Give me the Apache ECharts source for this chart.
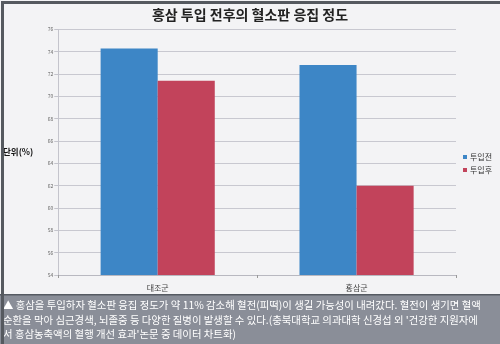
<!DOCTYPE html>
<html><head><meta charset="utf-8">
<script src="https://cdn.jsdelivr.net/npm/echarts@6/dist/echarts.min.js"></script>
<style>html,body{margin:0;padding:0;background:#f3f3f5}#c{width:500px;height:344px}</style>
</head><body><div id="c"></div>
<script>
const title = '홍삼 투입 전후의 혈소판 응집 정도';
const categories = ['대조군', '홍삼군'];
const seriesNames = ['투입전', '투입후'];
const beforeValues = [74.3, 72.8];
const afterValues = [71.4, 62.0];
const yTicks = [54, 56, 58, 60, 62, 64, 66, 68, 70, 72, 74, 76];
const yName = '단위(%)';
const captionLines = [
  '▲ 홍삼을 투입하자 혈소판 응집 정도가 약 11% 감소해 혈전(피떡)이 생길 가능성이 내려갔다. 혈전이 생기면 혈액',
  '순환을 막아 심근경색, 뇌졸중 등 다양한 질병이 발생할 수 있다.(충북대학교 의과대학 신경섭 외 \'건강한 지원자에',
  '서 홍삼농축액의 혈행 개선 효과\'논문 중 데이터 차트화)'
];
const FONT = '"Noto Sans CJK KR", "Noto Sans", sans-serif';
const chart = echarts.init(document.getElementById('c'), null, {renderer: 'canvas'});
chart.setOption({
  backgroundColor: '#f3f3f5',
  animation: false,
  title: {text: title, left: 'center', top: 3,
    textStyle: {fontFamily: FONT, fontSize: 14, fontWeight: 'bold', color: '#222'}},
  legend: {data: seriesNames, orient: 'vertical', left: 458, top: 148, itemWidth: 4, itemHeight: 4,
    itemGap: 5, icon: 'rect', textStyle: {fontFamily: FONT, fontSize: 8, color: '#333', padding: [0,0,0,-2]}},
  grid: {left: 45, right: 44, top: 29.4, bottom: 69},
  xAxis: {type: 'category', data: categories,
    axisLine: {lineStyle: {color: '#b8b8c0', width: 1}},
    axisTick: {show: true, alignWithLabel: false, length: 3, lineStyle: {color: '#999'}},
    axisLabel: {fontFamily: FONT, fontSize: 8, color: '#444', margin: 9}},
  yAxis: {type: 'value', min: yTicks[0], max: yTicks[yTicks.length-1], interval: 2,
    name: yName, nameLocation: 'middle', nameRotate: 0, nameGap: 25,
    nameTextStyle: {fontFamily: FONT, fontSize: 8.5, fontWeight: 'bold', color: '#111'},
    axisLine: {show: true, lineStyle: {color: '#c4c4cc'}},
    axisTick: {show: true, inside: false, length: 4, lineStyle: {color: '#c4c4cc'}},
    axisLabel: {fontFamily: FONT, fontSize: 5, color: '#666', margin: 5},
    splitLine: {lineStyle: {color: '#c8c8d0', width: 1}}},
  series: [
    {name: seriesNames[0], type: 'bar', data: beforeValues, barGap: '0%', barCategoryGap: '42.6%',
      itemStyle: {color: '#3d86c6'}},
    {name: seriesNames[1], type: 'bar', data: afterValues, itemStyle: {color: '#c2435b'}}
  ],
  graphic: [
    {type: 'rect', left: 0, top: 295, shape: {width: 500, height: 49}, style: {fill: '#8a8e98'}, z: 10},
    {type: 'rect', left: 0, top: 294, shape: {width: 500, height: 1.5}, style: {fill: '#555a62'}, z: 11},
    {type: 'text', left: 3, top: 298, z: 12,
      style: {text: captionLines.join('\n'), fill: '#ffffff', font: '10.4px ' + FONT, lineHeight: 14.5}},
    {type: 'rect', left: 0, top: 0, shape: {width: 500, height: 344},
      style: {fill: 'none', stroke: '#55595f', lineWidth: 3}, z: 20}
  ]
});
</script></body></html>
